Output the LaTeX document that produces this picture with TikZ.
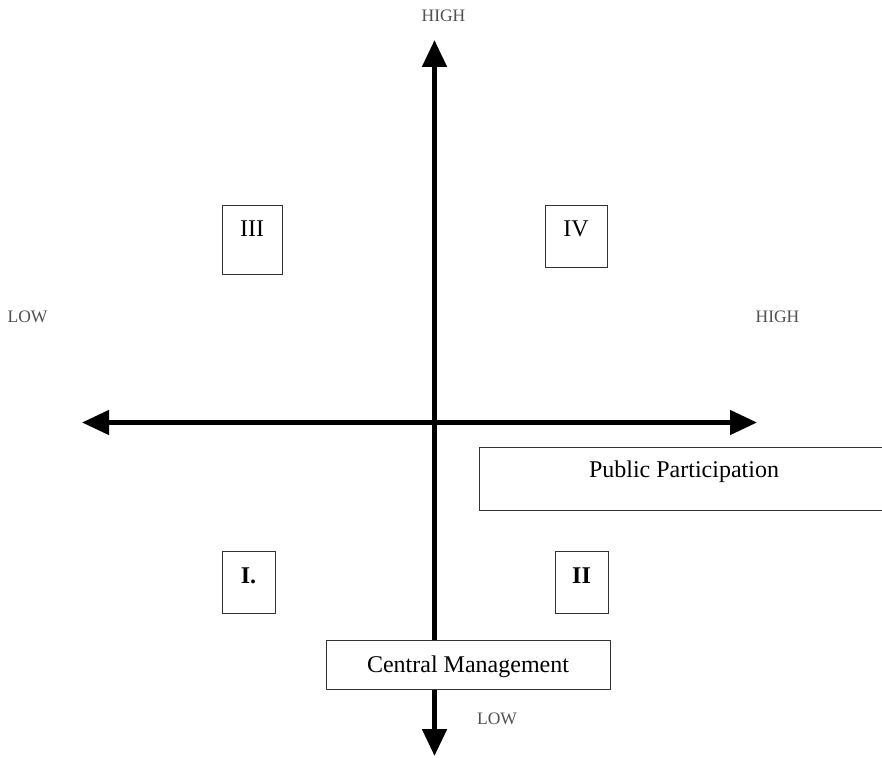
\documentclass[tikz,border=0pt]{standalone}
\usepackage{fontspec}
\setmainfont{Liberation Serif}
\usetikzlibrary{arrows.meta}
\definecolor{lblgray}{HTML}{505050}
\definecolor{boxgray}{HTML}{333333}
\tikzset{
  axisline/.style={line width=5pt, -{Triangle[length=27pt,width=24pt]}},
  qbox/.style={draw=boxgray, line width=1pt, fill=white, inner sep=0pt, font=\fontsize{24}{26}\selectfont, text height=16pt},
  axlabel/.style={inner sep=0pt, text=lblgray, font=\fontsize{17.5}{19}\selectfont, text height=11.6pt, text depth=0pt}
}
\begin{document}
\begin{tikzpicture}[x=1pt,y=-1pt]
\useasboundingbox (0,0) rectangle (882,757);
\clip (0,0) rectangle (882,757);
% axis end points
\coordinate (vtop) at (434.5,40);
\coordinate (vbot) at (434.5,756);
\coordinate (hleft) at (82,422.5);
\coordinate (hright) at (757,422.5);
\coordinate (orig) at (434.5,422.5);
% axes
\draw[axisline] (orig) -- (vtop);
\draw[axisline] (orig) -- (vbot);
\draw[axisline, line width=4.6pt] (orig) -- (hleft);
\draw[axisline, line width=4.6pt] (orig) -- (hright);
% axis labels
\node[axlabel] (hightop) at (443.5,16) {HIGH};
\node[axlabel] (lowleft) at (27.5,316.5) {LOW};
\node[axlabel] (highright) at (777.5,316.5) {HIGH};
\node[axlabel] (lowbot) at (497,718.5) {LOW};
% quadrant boxes
\node[qbox, minimum width=60pt, minimum height=69pt, text depth=23pt] (q3) at (252,239.5) {III};
\node[qbox, minimum width=62pt, minimum height=62pt, text depth=16pt] (q4) at (576,236) {IV};
\node[qbox, minimum width=53pt, minimum height=62pt, text depth=14pt, font=\fontsize{24}{26}\selectfont\bfseries] (q1) at (248.5,582) {I.};
\node[qbox, minimum width=53pt, minimum height=62pt, text depth=14pt, font=\fontsize{24}{26}\selectfont\bfseries] (q2) at (581.5,582) {II};
% variable boxes
\node[qbox, minimum width=410pt, minimum height=63pt, text depth=19pt] (pp) at (684,478.5) {Public Participation};
\node[qbox, minimum width=284pt, minimum height=49pt, text depth=0pt] (cm) at (468,664.5) {Central Management};
\end{tikzpicture}
\end{document}
